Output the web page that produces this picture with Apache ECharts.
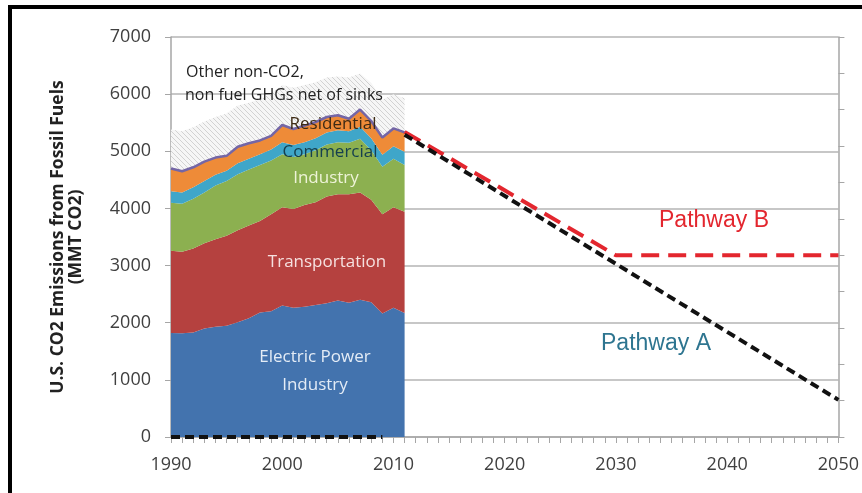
<!DOCTYPE html>
<html>
<head>
<meta charset="utf-8">
<script src="https://cdn.jsdelivr.net/npm/echarts@6/dist/echarts.min.js"></script>
<style>
  html, body { margin: 0; padding: 0; background: #fff; }
  #main { width: 862px; height: 493px; }
</style>
</head>
<body>
<div id="main"></div>
<script>
// historical emissions by sector, MMT CO2, 1990-2011
const electric = [1820, 1815, 1830, 1900, 1930, 1945, 2010, 2080, 2180, 2200, 2300,
  2260, 2280, 2310, 2340, 2390, 2350, 2400, 2360, 2160, 2260, 2170];
const transport = [1440, 1425, 1470, 1490, 1530, 1575, 1610, 1620, 1600, 1700, 1720,
  1730, 1780, 1800, 1870, 1860, 1900, 1880, 1790, 1740, 1760, 1770];
const industry = [840, 840, 870, 890, 940, 960, 980, 980, 980, 940, 930,
  910, 890, 910, 910, 910, 900, 940, 870, 830, 850, 820];
const commercial = [200, 200, 200, 200, 190, 180, 190, 190, 190, 190, 210,
  210, 210, 210, 210, 210, 200, 210, 210, 210, 220, 230];
const residential = [400, 370, 350, 340, 300, 260, 290, 270, 240, 240, 300,
  280, 290, 280, 270, 260, 220, 300, 300, 300, 310, 340];
const otherGhg = [680, 700, 700, 700, 710, 740, 720, 710, 720, 740, 700,
  720, 710, 700, 690, 680, 720, 630, 670, 660, 600, 600];

// projections
const pathA = [['2011', 5290], ['2050', 650]];
const pathB = [['2011', 5340], ['2030', 3180], ['2050', 3180]];
const histZero = [['1990', 0], ['2009', 0]];

const years = [];
for (let y = 1990; y <= 2050; y++) years.push(String(y));

const font = 'Open Sans';

// hatched fill for the non-CO2 band
const hatch = document.createElement('canvas');
hatch.width = 5;
hatch.height = 5;
const hc = hatch.getContext('2d');
hc.fillStyle = '#f6f6f6';
hc.fillRect(0, 0, 5, 5);
hc.strokeStyle = '#d2d2d2';
hc.lineWidth = 1;
hc.beginPath();
hc.moveTo(-1, -1); hc.lineTo(6, 6);
hc.moveTo(-1, 4); hc.lineTo(1, 6);
hc.moveTo(4, -1); hc.lineTo(6, 1);
hc.stroke();

function area(name, vals, color, line) {
  return {
    name: name,
    type: 'line',
    stack: 'hist',
    data: vals,
    showSymbol: false,
    z: 2,
    lineStyle: line || { width: 0 },
    areaStyle: { color: color, opacity: 1 },
    itemStyle: { color: typeof color === 'string' ? color : '#ccc' }
  };
}

function label(text, x, y, size, color, align) {
  return {
    type: 'text',
    x: x,
    y: y,
    z: 100,
    style: {
      text: text,
      font: size + 'px "' + font + '"',
      fill: color,
      align: align || 'center',
      verticalAlign: 'middle'
    }
  };
}

const chart = echarts.init(document.getElementById('main'));

chart.setOption({
  animation: false,
  grid: { left: 171, right: 13, top: 37, bottom: 56 },
  xAxis: {
    type: 'category',
    data: years,
    boundaryGap: false,
    axisLine: { lineStyle: { color: '#a6a6a6', width: 1.5 } },
    axisTick: { show: true, interval: 0, length: 6, lineStyle: { color: '#a6a6a6' } },
    splitLine: { show: false },
    axisLabel: { interval: 9, color: '#404040', fontFamily: font, fontSize: 18, margin: 19 }
  },
  yAxis: [{
    type: 'value',
    min: 0,
    max: 7000,
    interval: 1000,
    name: 'U.S. CO2 Emissions from Fossil Fuels\n(MMT CO2)',
    nameLocation: 'middle',
    nameGap: 86,
    nameTextStyle: { fontFamily: font, fontSize: 17.5, fontWeight: 'bold', color: '#222', lineHeight: 18 },
    axisLine: { show: true, lineStyle: { color: '#a6a6a6', width: 1.5 } },
    axisTick: { show: true, length: 6, lineStyle: { color: '#a6a6a6' } },
    splitLine: { lineStyle: { color: '#b4b4b4', width: 1.5 } },
    axisLabel: { color: '#404040', fontFamily: font, fontSize: 18, margin: 20, formatter: v => String(v) }
  }, {
    type: 'value',
    position: 'right',
    min: 0,
    max: 11,
    interval: 1,
    axisLine: { show: true, lineStyle: { color: '#a6a6a6', width: 1.5 } },
    axisTick: { show: true, length: 6, lineStyle: { color: '#a6a6a6' } },
    splitLine: { show: false },
    axisLabel: { show: false }
  }],
  series: [
    area('Electric Power Industry', electric, '#4373ae'),
    area('Transportation', transport, '#b5413f'),
    area('Industry', industry, '#8cb050'),
    area('Commercial', commercial, '#3fa6c9'),
    area('Residential', residential, '#ee8b38', { width: 2.5, color: '#7466a6' }),
    area('Other non-CO2', otherGhg, { image: hatch, repeat: 'repeat' }),
    {
      name: 'Pathway A',
      type: 'line',
      data: pathA,
      showSymbol: false,
      z: 5,
      lineStyle: { color: '#111', width: 4, type: [9, 5] }
    },
    {
      name: 'Pathway A history',
      type: 'line',
      data: histZero,
      showSymbol: false,
      z: 5,
      lineStyle: { color: '#111', width: 4, type: [9, 5] }
    },
    {
      name: 'Pathway B',
      type: 'line',
      data: pathB,
      showSymbol: false,
      z: 4,
      lineStyle: { color: '#e3262e', width: 4, type: [18, 9] }
    }
  ],
  graphic: [
    {
      type: 'rect',
      z: 100,
      shape: { x: 10, y: 7, width: 900, height: 600 },
      style: { fill: 'none', stroke: '#000', lineWidth: 4 }
    },
    label('Other non-CO2,', 186, 72, 16, '#222', 'left'),
    label('non fuel GHGs net of sinks', 185, 95, 16, '#222', 'left'),
    label('Residential', 333, 124, 17, '#3d2a14'),
    label('Commercial', 330, 152, 17, '#16404f'),
    label('Industry', 326, 178, 17, '#eef3d8'),
    label('Transportation', 327, 262, 17, '#f6e0df'),
    label('Electric Power', 315, 357, 17, '#e4ecf6'),
    label('Industry', 315, 385, 17, '#e4ecf6'),
    {
      type: 'text', x: 714, y: 221, z: 100,
      style: { text: 'Pathway B', font: '23px "Liberation Sans"', fill: '#e3262e', align: 'center', verticalAlign: 'middle' }
    },
    {
      type: 'text', x: 656, y: 344, z: 100,
      style: { text: 'Pathway A', font: '23px "Liberation Sans"', fill: '#2e7590', align: 'center', verticalAlign: 'middle' }
    }
  ]
});
</script>
</body>
</html>
